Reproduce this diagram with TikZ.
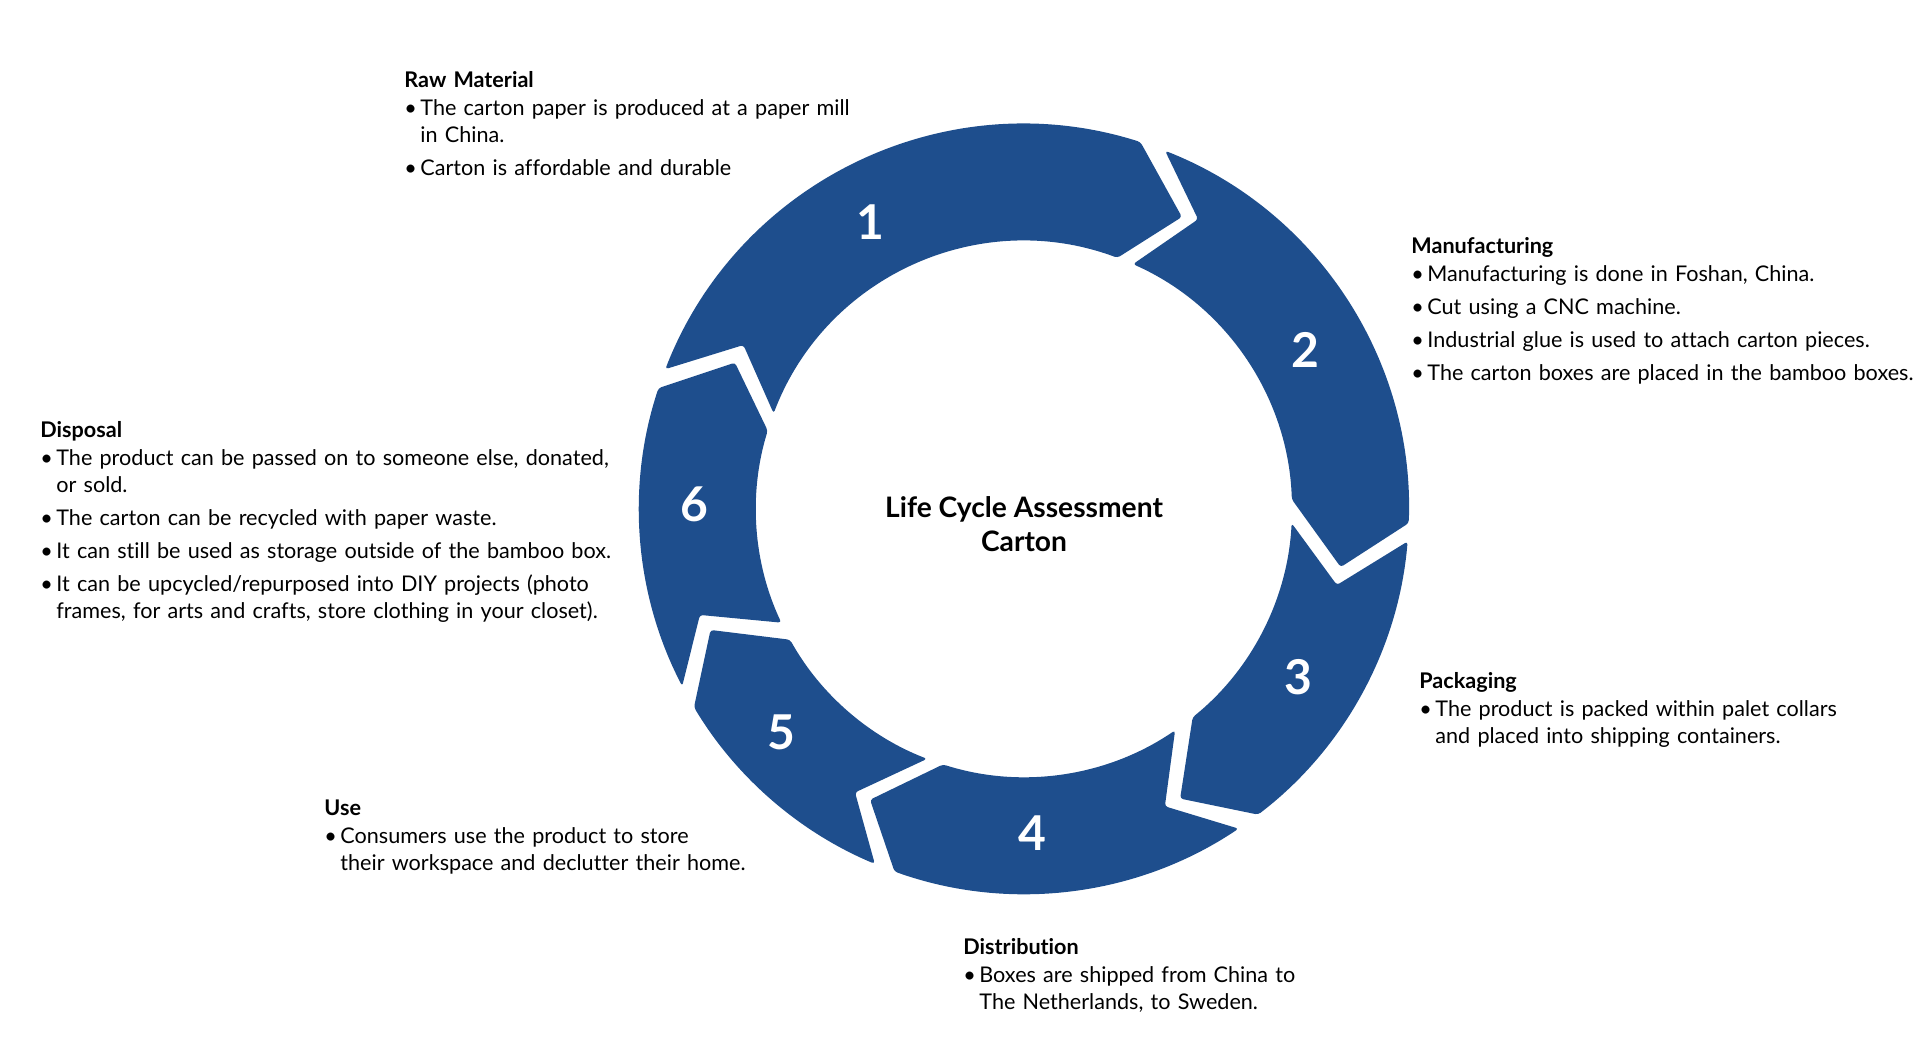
\documentclass[tikz,border=0pt]{standalone}
\usepackage{fontspec}
\setmainfont{Lato}[Ligatures=NoCommon]
\usepackage{tikz}

\definecolor{lcblue}{RGB}{30,78,141}
\hyphenpenalty=10000
\exhyphenpenalty=10000
\newcommand{\lchead}[1]{\noindent\textbf{#1}\par\vspace{-2.5pt}}
\newcommand{\lcitem}{\par\vspace{3pt}\hangindent=8pt\hangafter=1\noindent\makebox[8pt][l]{\textbullet}}

\begin{document}
\begin{tikzpicture}[
        x=0.5pt, y=0.5pt,
        seg/.style={fill=lcblue, rounded corners=1.5pt},
        num/.style={text=white, font=\bfseries\fontsize{24}{24}\selectfont, inner sep=0pt},
        info/.style={anchor=north west, inner sep=0pt, align=left, font=\fontsize{10.8}{13.5}\selectfont}
      ]
      \path[use as bounding box] (0,0) rectangle (1920,1047);

      % ring of six arrows
      \begin{scope}[shift={(1024,538)}]
        \fill[seg] (158.7:385) arc[start angle=158.7, end angle=72.4, radius=385] -- (61.6:332) -- (69.6:268) arc[start angle=69.6, end angle=159.1, radius=268] -- (149.7:325) -- cycle;
        \fill[seg] (68.5:385) arc[start angle=68.5, end angle=-2.1, radius=385] -- (-10.4:322) -- (2.06:268) arc[start angle=2.06, end angle=66.0, radius=268] -- (59.0:338) -- cycle;
        \fill[seg] (-4.84:385) arc[start angle=-4.84, end angle=-52.55, radius=385] -- (-61.67:329) -- (-51.0:268) arc[start angle=-51.0, end angle=-3.04, radius=268] -- (-13.66:322) -- cycle;
        \fill[seg] (-56.13:385) arc[start angle=-56.13, end angle=-109.66, radius=385] -- (-117.9:329) -- (-107.6:268) arc[start angle=-107.6, end angle=-55.68, radius=268] -- (-64.65:329) -- cycle;
        \fill[seg] (-112.8:385) arc[start angle=-112.8, end angle=-149.0, radius=385] -- (-158.9:336) -- (-150.8:268) arc[start angle=-150.8, end angle=-111.2, radius=268] -- (-120.8:330) -- cycle;
        \fill[seg] (-152.6:385) arc[start angle=-152.6, end angle=-198.3, radius=385] -- (-206.85:324) -- (-197.0:268) arc[start angle=-197.0, end angle=-154.9, radius=268] -- (-161.9:341) -- cycle;

        \node[num] (n1) at (118.2:325) {1};
        \node[num] (n2) at (29.4:323) {2};
        \node[num] (n3) at (-31.5:322) {3};
        \node[num] (n4) at (-88.5:324) {4};
        \node[num] (n5) at (-137.4:330) {5};
        \node[num] (n6) at (179.2:330) {6};
      \end{scope}

      \node[align=center, font=\bfseries\fontsize{14.1}{17}\selectfont] (title) at (1024,523) {Life Cycle Assessment\\Carton};

      % stage texts
      \node[info, text width=250pt] (raw) at (404,976) {\lchead{Raw Material}
        \lcitem The carton paper is produced at a paper mill\newline in China.
        \lcitem Carton is affordable and durable\par};
      \node[info, text width=252pt] (manuf) at (1411,810) {\lchead{Manufacturing}
        \lcitem Manufacturing is done in Foshan, China.
        \lcitem Cut using a CNC machine.
        \lcitem Industrial glue is used to attach carton pieces.
        \lcitem The carton boxes are placed in the bamboo boxes.\par};
      \node[info, text width=245pt] (pack) at (1419,375) {\lchead{Packaging}
        \lcitem The product is packed within palet collars\newline and placed into shipping containers.\par};
      \node[info, text width=220pt] (distr) at (963,109) {\lchead{Distribution}
        \lcitem Boxes are shipped from China to\newline The Netherlands, to Sweden.\par};
      \node[info, text width=250pt] (use) at (324,248) {\lchead{Use}
        \lcitem Consumers use the product to store\newline their workspace and declutter their home.\par};
      \node[info, text width=320pt] (disp) at (40,626) {\lchead{Disposal}
        \lcitem The product can be passed on to someone else, donated,\newline or sold.
        \lcitem The carton can be recycled with paper waste.
        \lcitem It can still be used as storage outside of the bamboo box.
        \lcitem It can be upcycled/repurposed into DIY projects (photo\newline frames, for arts and crafts, store clothing in your closet).\par};
      \end{tikzpicture}
\end{document}
